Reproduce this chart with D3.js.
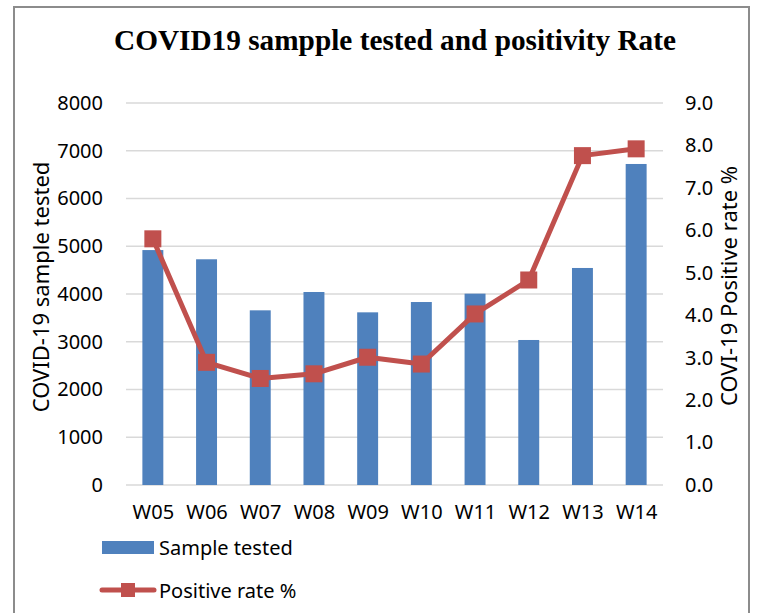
<!DOCTYPE html>
<html>
<head>
<meta charset="utf-8">
<script src="https://cdn.jsdelivr.net/npm/d3@7"></script>
<style>
  body { margin: 0; background: #fff; }
  svg { display: block; }
</style>
</head>
<body>
<script>
var weeks = ["W05", "W06", "W07", "W08", "W09", "W10", "W11", "W12", "W13", "W14"];
var samplesTested = [4920, 4727, 3658, 4042, 3616, 3832, 4007, 3037, 4545, 6723];
var positiveRate = [5.80, 2.89, 2.51, 2.62, 3.01, 2.85, 4.03, 4.83, 7.76, 7.92];
var leftTicks = [0, 1000, 2000, 3000, 4000, 5000, 6000, 7000, 8000];
var rightTicks = [0, 1, 2, 3, 4, 5, 6, 7, 8, 9];

var width = 760, height = 613;
var plot = { left: 126, right: 663, top: 103, bottom: 485 };
var labelFont = "'Noto Sans', 'Open Sans', sans-serif";

var svg = d3.select("body")
    .append("svg")
    .attr("width", width)
    .attr("height", height);

// outer frame
svg.append("rect")
    .attr("x", 14).attr("y", 7)
    .attr("width", 735).attr("height", 620)
    .attr("fill", "none")
    .attr("stroke", "#8c8c8c")
    .attr("stroke-width", 2);

svg.append("text")
    .attr("x", 395).attr("y", 50)
    .attr("text-anchor", "middle")
    .attr("font-family", "'Liberation Serif', 'Times New Roman', serif")
    .attr("font-weight", "bold")
    .attr("font-size", 30)
    .attr("textLength", 562)
    .attr("lengthAdjust", "spacingAndGlyphs")
    .text("COVID19 sampple tested and positivity Rate");

var x = d3.scaleBand()
    .domain(weeks)
    .range([plot.left, plot.right])
    .paddingInner(0.61)
    .paddingOuter(0.305);

var xc = d3.scalePoint()
    .domain(weeks)
    .range([plot.left, plot.right])
    .padding(0.5);

var yLeft = d3.scaleLinear().domain([0, 8000]).range([plot.bottom, plot.top]);
var yRight = d3.scaleLinear().domain([0, 9]).range([plot.bottom, plot.top]);

// gridlines
svg.append("g")
    .selectAll("line")
    .data(leftTicks)
    .enter().append("line")
    .attr("x1", plot.left).attr("x2", plot.right)
    .attr("y1", function (d) { return yLeft(d); })
    .attr("y2", function (d) { return yLeft(d); })
    .attr("stroke", "#d9d9d9")
    .attr("stroke-width", 1.5);

// left axis
var leftAxis = svg.append("g")
    .attr("transform", "translate(" + (plot.left - 23) + ",0)")
    .call(d3.axisLeft(yLeft).tickValues(leftTicks).tickSize(0).tickPadding(0)
        .tickFormat(d3.format("d")));
leftAxis.select(".domain").remove();
leftAxis.selectAll("text")
    .attr("font-family", labelFont)
    .attr("font-size", 20)
    .attr("fill", "#000");

// right axis
var rightAxis = svg.append("g")
    .attr("transform", "translate(" + (plot.right + 22) + ",0)")
    .call(d3.axisRight(yRight).tickValues(rightTicks).tickSize(0).tickPadding(0)
        .tickFormat(d3.format(".1f")));
rightAxis.select(".domain").remove();
rightAxis.selectAll("text")
    .attr("font-family", labelFont)
    .attr("font-size", 20)
    .attr("fill", "#000");

// x axis labels
var bottomAxis = svg.append("g")
    .attr("transform", "translate(0," + (plot.bottom + 20) + ")")
    .call(d3.axisBottom(xc).tickSize(0).tickPadding(0));
bottomAxis.select(".domain").remove();
bottomAxis.selectAll("text")
    .attr("font-family", labelFont)
    .attr("font-size", 20)
    .attr("fill", "#000");

// axis titles
svg.append("text")
    .attr("transform", "translate(49,287) rotate(-90)")
    .attr("text-anchor", "middle")
    .attr("font-family", labelFont)
    .attr("font-size", 22)
    .text("COVID-19 sample tested");

svg.append("text")
    .attr("transform", "translate(737,286) rotate(-90)")
    .attr("text-anchor", "middle")
    .attr("font-family", labelFont)
    .attr("font-size", 22)
    .text("COVI-19 Positive rate %");

// bars
svg.append("g")
    .selectAll("rect")
    .data(samplesTested)
    .enter().append("rect")
    .attr("x", function (d, i) { return x(weeks[i]); })
    .attr("y", function (d) { return yLeft(d); })
    .attr("width", x.bandwidth())
    .attr("height", function (d) { return plot.bottom - yLeft(d); })
    .attr("fill", "#4f81bd");

// positive rate line
var line = d3.line()
    .x(function (d, i) { return xc(weeks[i]); })
    .y(function (d) { return yRight(d); });

svg.append("path")
    .datum(positiveRate)
    .attr("d", line)
    .attr("fill", "none")
    .attr("stroke", "#c0504d")
    .attr("stroke-width", 5)
    .attr("stroke-linejoin", "round");

var markerSize = 17;
svg.append("g")
    .selectAll("rect")
    .data(positiveRate)
    .enter().append("rect")
    .attr("x", function (d, i) { return xc(weeks[i]) - markerSize / 2; })
    .attr("y", function (d) { return yRight(d) - markerSize / 2; })
    .attr("width", markerSize)
    .attr("height", markerSize)
    .attr("fill", "#c0504d");

// legend
var legend = svg.append("g");
legend.append("rect")
    .attr("x", 102).attr("y", 541)
    .attr("width", 52).attr("height", 13)
    .attr("fill", "#4f81bd");
legend.append("text")
    .attr("x", 159).attr("y", 555)
    .attr("font-family", labelFont)
    .attr("font-size", 20)
    .text("Sample tested");

legend.append("line")
    .attr("x1", 102).attr("x2", 154)
    .attr("y1", 590).attr("y2", 590)
    .attr("stroke", "#c0504d")
    .attr("stroke-width", 5)
    .attr("stroke-linecap", "round");
legend.append("rect")
    .attr("x", 121).attr("y", 583)
    .attr("width", 14).attr("height", 14)
    .attr("fill", "#c0504d");
legend.append("text")
    .attr("x", 159).attr("y", 598)
    .attr("font-family", labelFont)
    .attr("font-size", 20)
    .text("Positive rate %");
</script>
</body>
</html>
